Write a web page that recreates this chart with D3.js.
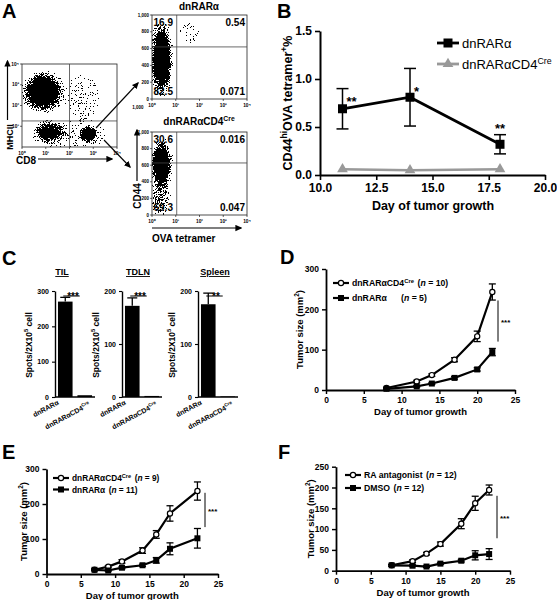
<!DOCTYPE html>
<html><head><meta charset="utf-8">
<script src="https://cdn.jsdelivr.net/npm/d3@7"></script>
<style>body{margin:0;background:#fff}svg{display:block}text{font-family:"Liberation Sans",Arial,sans-serif}</style>
</head><body><svg id="c" width="557" height="600"></svg>
<script>
// ---------------- DATA ----------------
// Panel A (flow cytometry): cluster summaries (x in log10 decades, y in log10 decades or linear units)
const aMainClusters = [
  {x: 0.9, y: 2.65, rx: 0.95, ry: 1.05, d: 1.0},
  {x: 1.15, y: 0.7, rx: 0.75, ry: 0.6, d: 0.7},
  {x: 2.8, y: 0.62, rx: 0.42, ry: 0.45, d: 1.0},
  {x: 2.55, y: 2.3, rx: 0.8, ry: 1.3, d: 0.12},
  {x: 2.0, y: 0.55, rx: 1.7, ry: 0.7, d: 0.15}
];
const aTopClusters = [
  {x: 0.4, y: 480, rx: 0.5, ry: 470, d: 1.0},
  {x: 1.6, y: 770, rx: 0.45, ry: 140, d: 0.1}
];
const aBotClusters = [
  {x: 0.4, y: 610, rx: 0.5, ry: 330, d: 0.9},
  {x: 0.35, y: 220, rx: 0.45, ry: 260, d: 0.35}
];
const aTopQuads = ["16.9", "0.54", "82.5", "0.071"];
const aBotQuads = ["30.6", "0.016", "69.3", "0.047"];
const flowLogTicks = ["10⁰", "10¹", "10²", "10³", "10⁴"];
const flowLinTicks = [0, 200, 400, 600, 800, 1000];

// Panel B
const bDays = [11, 14, 18];
const bDnMean = [0.69, 0.81, 0.32];
const bDnErr = [0.21, 0.30, 0.10];
const bCreMean = [0.06, 0.05, 0.06];
const bStars = ["**", "*", "**"];
const bTicksX = [10, 12.5, 15, 17.5, 20];
const bTicksY = [0, 0.5, 1.0, 1.5];

// Panel C
const cGroups = ["dnRARα", "dnRARαCD4Cre"];
const cTissues = ["TIL", "TDLN", "Spleen"];
const cMax = [300, 200, 200];
const cTicks = [[0, 100, 200, 300], [0, 100, 200], [0, 100, 200]];
const cMeans = [[270, 5], [172, 2], [175, 1]];
const cErr = [12, 15, 21];
const cStars = ["***", "***", "**"];

// Panel D
const dDays = [8, 12, 14, 17, 20, 22];
const dCre = [5, 21, 37, 75, 133, 243];
const dCreErr = [1, 3, 3, 5, 13, 20];
const dDn = [3, 9, 16, 30, 51, 94];
const dDnErr = [1, 2, 2, 3, 4, 9];

// Panel E
const eDays = [7, 9, 11, 14, 16, 18, 22];
const eCre = [12, 21, 36, 67, 113, 173, 237];
const eCreErr = [2, 3, 5, 8, 11, 22, 26];
const eDn = [12, 10, 18, 25, 39, 72, 102];
const eDnErr = [2, 2, 3, 3, 8, 17, 28];

// Panel F
const fDays = [8, 11, 13, 15, 18, 20, 22];
const fRA = [13, 23, 41, 64, 113, 162, 194];
const fRAErr = [2, 3, 3, 5, 12, 17, 12];
const fDMSO = [13, 12, 10, 17, 24, 37, 40];
const fDMSOErr = [2, 2, 2, 2, 3, 11, 13];

const growthXTicks = [0, 5, 10, 15, 20, 25];

// ---------------- HELPERS ----------------
const svg = d3.select("#c");
svg.append("rect").attr("width", 557).attr("height", 600).attr("fill", "#fff");
const defs = svg.append("defs");
defs.append("marker").attr("id", "ah").attr("viewBox", "0 0 10 10").attr("refX", 8).attr("refY", 5)
  .attr("markerWidth", 7).attr("markerHeight", 7).attr("markerUnits", "userSpaceOnUse").attr("orient", "auto")
  .append("path").attr("d", "M0,0.5L10,5L0,9.5z").attr("fill", "#000");
const rg = defs.append("radialGradient").attr("id", "rg");
rg.append("stop").attr("offset", 0).attr("stop-color", "#000").attr("stop-opacity", 1);
rg.append("stop").attr("offset", 0.5).attr("stop-color", "#000").attr("stop-opacity", 0.8);
rg.append("stop").attr("offset", 0.8).attr("stop-color", "#000").attr("stop-opacity", 0.3);
rg.append("stop").attr("offset", 1).attr("stop-color", "#000").attr("stop-opacity", 0);
const flt = defs.append("filter").attr("id", "grain").attr("filterUnits", "userSpaceOnUse")
  .attr("color-interpolation-filters", "sRGB")
  .attr("x", 0).attr("y", 0).attr("width", 557).attr("height", 600);
flt.append("feTurbulence").attr("type", "fractalNoise").attr("baseFrequency", 1.4).attr("numOctaves", 1).attr("seed", 7).attr("result", "noise");
flt.append("feComponentTransfer").attr("in", "noise").attr("result", "n2")
  .append("feFuncA").attr("type", "linear").attr("slope", 2.6).attr("intercept", -0.8);
flt.append("feComposite").attr("in", "SourceGraphic").attr("in2", "n2").attr("operator", "arithmetic")
  .attr("k1", 0).attr("k2", 8).attr("k3", -5).attr("k4", 0.45).attr("result", "cmp");
flt.append("feColorMatrix").attr("in", "cmp").attr("type", "matrix").attr("result", "blk")
  .attr("values", "0 0 0 0 0  0 0 0 0 0  0 0 0 0 0  0 0 0 1 0");
flt.append("feComponentTransfer").attr("in", "blk")
  .append("feFuncA").attr("type", "discrete").attr("tableValues", "0 1");

function rich(sel, parts, fs) {
  let cur = 0;
  parts.forEach(([s, t]) => {
    const ts = sel.append("tspan").text(s);
    const target = t === "s" ? -fs * 0.42 : 0;
    if (target !== cur) ts.attr("dy", target - cur);
    cur = target;
    if (t === "s") ts.attr("font-size", fs * 0.68);
    if (t === "i") ts.attr("font-style", "italic");
  });
  return sel;
}
function txt(g, x, y, s, fs, opts = {}) {
  const t = g.append("text").attr("x", x).attr("y", y).attr("font-size", fs)
    .attr("font-weight", opts.w || "bold").attr("text-anchor", opts.a || "start").attr("fill", opts.fill || "#000");
  if (opts.rot) t.attr("transform", `rotate(${opts.rot},${x},${y})`);
  if (Array.isArray(s)) rich(t, s, fs); else t.text(s);
  return t;
}
function styleAxis(a, fs, sw) {
  a.attr("font-family", null).attr("font-size", null);
  a.select(".domain").attr("stroke-width", sw).attr("stroke", "#000");
  a.selectAll(".tick line").attr("stroke-width", sw * 0.8).attr("stroke", "#000");
  a.selectAll(".tick text").attr("font-size", fs).attr("font-weight", "bold").attr("fill", "#000");
}

// ---------------- PANEL LETTERS ----------------
const letters = svg.append("g");
txt(letters, 2, 18, "A", 20);
txt(letters, 277, 18, "B", 20);
txt(letters, 2, 265, "C", 20);
txt(letters, 280, 264, "D", 20);
txt(letters, 2, 459, "E", 20);
txt(letters, 278, 459, "F", 20);

// ---------------- PANEL A ----------------
let clipN = 0;
function flowPlot(cfg) {
  const g = svg.append("g");
  const xs = d3.scaleLog().domain([1, 1e4]).range([cfg.x0, cfg.x1]);
  const ys = cfg.yLog ? d3.scaleLog().domain([1, 1e4]).range([cfg.y1, cfg.y0])
                      : d3.scaleLinear().domain([0, 1000]).range([cfg.y1, cfg.y0]);
  const pxDec = (cfg.x1 - cfg.x0) / 4;
  const pyUnit = cfg.yLog ? (cfg.y1 - cfg.y0) / 4 : (cfg.y1 - cfg.y0) / 1000;
  const id = "clip" + (clipN++);
  defs.append("clipPath").attr("id", id).append("rect")
    .attr("x", cfg.x0).attr("y", cfg.y0).attr("width", cfg.x1 - cfg.x0).attr("height", cfg.y1 - cfg.y0);
  const cg = g.append("g").attr("clip-path", `url(#${id})`).append("g").attr("filter", "url(#grain)");
  cg.selectAll("ellipse").data(cfg.clusters).join("ellipse")
    .attr("cx", c => xs(Math.pow(10, c.x)))
    .attr("cy", c => cfg.yLog ? ys(Math.pow(10, c.y)) : ys(c.y))
    .attr("rx", c => c.rx * pxDec).attr("ry", c => c.ry * pyUnit)
    .attr("fill", "url(#rg)").attr("fill-opacity", c => c.d);
  g.append("rect").attr("x", cfg.x0).attr("y", cfg.y0).attr("width", cfg.x1 - cfg.x0).attr("height", cfg.y1 - cfg.y0)
    .attr("fill", "none").attr("stroke", "#222").attr("stroke-width", 0.8);
  const gx = xs(cfg.gateX), gy = ys(cfg.gateY);
  g.append("line").attr("x1", gx).attr("x2", gx).attr("y1", cfg.y0).attr("y2", cfg.y1).attr("stroke", "#444").attr("stroke-width", 0.8);
  g.append("line").attr("x1", cfg.x0).attr("x2", cfg.x1).attr("y1", gy).attr("y2", gy).attr("stroke", "#444").attr("stroke-width", 0.8);
  flowLogTicks.forEach((t, i) => {
    const x = xs(Math.pow(10, i));
    g.append("line").attr("x1", x).attr("x2", x).attr("y1", cfg.y1).attr("y2", cfg.y1 + 2).attr("stroke", "#000").attr("stroke-width", 0.6);
    txt(g, x, cfg.y1 + 7.5, t, 4.8, {a: "middle"});
  });
  if (cfg.yLog) {
    flowLogTicks.forEach((t, i) => {
      if (i === 0) return;
      const y = ys(Math.pow(10, i));
      g.append("line").attr("x1", cfg.x0 - 2).attr("x2", cfg.x0).attr("y1", y).attr("y2", y).attr("stroke", "#000").attr("stroke-width", 0.6);
      txt(g, cfg.x0 - 3, y + 1.6, t, 4.8, {a: "end"});
    });
  } else {
    flowLinTicks.forEach(v => {
      const y = ys(v);
      g.append("line").attr("x1", cfg.x0 - 2).attr("x2", cfg.x0).attr("y1", y).attr("y2", y).attr("stroke", "#000").attr("stroke-width", 0.6);
      txt(g, cfg.x0 - 3, y + 1.6, d3.format(",")(v), 4.5, {a: "end"});
    });
  }
  if (cfg.quads) {
    const [tl, tr, bl, br] = cfg.quads;
    txt(g, cfg.x0 + 1.5, cfg.y0 + 10.5, tl, 10);
    txt(g, cfg.x1 - 2, cfg.y0 + 10.5, tr, 10, {a: "end"});
    txt(g, cfg.x0 + 1.5, cfg.y1 - 4.5, bl, 10);
    txt(g, cfg.x1 - 2, cfg.y1 - 4.5, br, 10, {a: "end"});
  }
  return g;
}
flowPlot({x0: 22, x1: 117, y0: 64, y1: 147, yLog: true, clusters: aMainClusters, gateX: 100, gateY: 18});
flowPlot({x0: 152, x1: 247, y0: 15, y1: 99, yLog: false, clusters: aTopClusters, gateX: 11, gateY: 620, quads: aTopQuads});
flowPlot({x0: 152, x1: 247, y0: 132, y1: 215, yLog: false, clusters: aBotClusters, gateX: 11, gateY: 627, quads: aBotQuads});
const aLab = svg.append("g");
txt(aLab, 138, 109, "1,000", 4.5, {a: "middle"});
txt(aLab, 199, 10, "dnRARα", 10, {a: "middle"});
txt(aLab, 199, 125, [["dnRARαCD4", ""], ["Cre", "s"]], 10, {a: "middle"});
function arrow(g, x1, y1, x2, y2, w) {
  g.append("line").attr("x1", x1).attr("y1", y1).attr("x2", x2).attr("y2", y2)
    .attr("stroke", "#000").attr("stroke-width", w).attr("marker-end", "url(#ah)");
}
arrow(aLab, 7.5, 120, 7.5, 61, 1.2);
txt(aLab, 13, 137, "MHCII", 9, {a: "middle", rot: -90});
txt(aLab, 16, 163.5, "CD8", 10);
arrow(aLab, 38, 159, 112, 159, 1.2);
arrow(aLab, 96, 128, 138, 83, 1.1);
arrow(aLab, 104, 140, 130, 167, 1.1);
arrow(aLab, 137, 181, 137, 130, 1.2);
txt(aLab, 141, 196, "CD44", 10, {a: "middle", rot: -90});
arrow(aLab, 152, 228, 241, 228, 1.2);
txt(aLab, 152, 242, "OVA tetramer", 10);

// ---------------- PANEL B ----------------
(function () {
  const g = svg.append("g");
  const x = d3.scaleLinear().domain([10, 20]).range([320, 545]);
  const y = d3.scaleLinear().domain([0, 1.5]).range([175, 31]);
  const ax = g.append("g").attr("transform", "translate(0,175)")
    .call(d3.axisBottom(x).tickValues(bTicksX).tickFormat(d3.format(".1f")).tickSize(5).tickSizeOuter(0));
  styleAxis(ax, 12, 2);
  const ay = g.append("g").attr("transform", "translate(320,0)")
    .call(d3.axisLeft(y).tickValues(bTicksY).tickFormat(d3.format(".1f")).tickSize(5).tickSizeOuter(0));
  styleAxis(ay, 12, 2);
  g.append("path").datum(bDays.map((d, i) => [x(d), y(bCreMean[i])]))
    .attr("d", d3.line()).attr("fill", "none").attr("stroke", "#999").attr("stroke-width", 2.5);
  g.selectAll(".tri").data(bDays).join("path")
    .attr("d", d3.symbol(d3.symbolTriangle, 50)).attr("fill", "#999")
    .attr("transform", (d, i) => `translate(${x(d)},${y(bCreMean[i])})`);
  bDays.forEach((d, i) => {
    const cx = x(d), t = y(bDnMean[i] + bDnErr[i]), b = y(bDnMean[i] - bDnErr[i]);
    g.append("line").attr("x1", cx).attr("x2", cx).attr("y1", t).attr("y2", b).attr("stroke", "#000").attr("stroke-width", 1.5);
    [t, b].forEach(yy => g.append("line").attr("x1", cx - 6).attr("x2", cx + 6).attr("y1", yy).attr("y2", yy).attr("stroke", "#000").attr("stroke-width", 1.5));
  });
  g.append("path").datum(bDays.map((d, i) => [x(d), y(bDnMean[i])]))
    .attr("d", d3.line()).attr("fill", "none").attr("stroke", "#000").attr("stroke-width", 2.8);
  g.selectAll(".sq").data(bDays).join("rect")
    .attr("x", (d) => x(d) - 4.5).attr("y", (d, i) => y(bDnMean[i]) - 4.5).attr("width", 9).attr("height", 9).attr("fill", "#000");
  txt(g, x(bDays[0]) + 4, y(bDnMean[0]) - 3, bStars[0], 13);
  txt(g, x(bDays[1]) + 4, y(bDnMean[1]) - 1, bStars[1], 13);
  txt(g, x(bDays[2]), y(bDnMean[2] + bDnErr[2]) - 2, bStars[2], 13, {a: "middle"});
  g.append("line").attr("x1", 437).attr("x2", 459).attr("y1", 43).attr("y2", 43).attr("stroke", "#000").attr("stroke-width", 2.8);
  g.append("rect").attr("x", 443.5).attr("y", 38.5).attr("width", 9).attr("height", 9).attr("fill", "#000");
  txt(g, 462, 48, "dnRARα", 13, {w: "normal"});
  g.append("line").attr("x1", 437).attr("x2", 459).attr("y1", 64).attr("y2", 64).attr("stroke", "#999").attr("stroke-width", 2.8);
  g.append("path").attr("d", d3.symbol(d3.symbolTriangle, 50)).attr("fill", "#999").attr("transform", "translate(448,64)");
  txt(g, 462, 69, [["dnRARαCD4", ""], ["Cre", "s"]], 13, {w: "normal"});
  txt(g, 292, 103, [["CD44", ""], ["hi", "s"], ["OVA tetramer", ""], ["+", "s"], ["%", ""]], 12.5, {a: "middle", rot: -90});
  txt(g, 433, 210, "Day of tumor growth", 12.5, {a: "middle"});
})();

// ---------------- PANEL C ----------------
const cLayout = [{ax: 55, lab: 32, tx: 62}, {ax: 122, lab: 99, tx: 138}, {ax: 198, lab: 175, tx: 215}];
cTissues.forEach((tis, k) => {
  const g = svg.append("g");
  const L = cLayout[k];
  const y = d3.scaleLinear().domain([0, cMax[k]]).range([397, 291]);
  const x = d3.scaleBand().domain(cGroups).range([L.ax + 2, L.ax + 38]).paddingInner(0.25).paddingOuter(0.05);
  const ay = g.append("g").attr("transform", `translate(${L.ax},0)`)
    .call(d3.axisLeft(y).tickValues(cTicks[k]).tickSize(3).tickSizeOuter(0));
  styleAxis(ay, 7, 1.4);
  g.append("line").attr("x1", L.ax).attr("x2", L.ax + 40).attr("y1", 397).attr("y2", 397).attr("stroke", "#000").attr("stroke-width", 1.4);
  g.selectAll(".bar").data(cGroups).join("rect")
    .attr("x", d => x(d)).attr("width", x.bandwidth())
    .attr("y", (d, i) => y(cMeans[k][i])).attr("height", (d, i) => 397 - y(cMeans[k][i])).attr("fill", "#000");
  const bc = x(cGroups[0]) + x.bandwidth() / 2;
  const et = y(cMeans[k][0] + cErr[k]);
  g.append("line").attr("x1", bc).attr("x2", bc).attr("y1", et).attr("y2", y(cMeans[k][0])).attr("stroke", "#000").attr("stroke-width", 1.3);
  g.append("line").attr("x1", bc - 5).attr("x2", bc + 5).attr("y1", et).attr("y2", et).attr("stroke", "#000").attr("stroke-width", 1.3);
  const bc2 = x(cGroups[1]) + x.bandwidth() / 2;
  g.append("line").attr("x1", bc - 2).attr("x2", bc2 - 5).attr("y1", 296).attr("y2", 296).attr("stroke", "#000").attr("stroke-width", 1);
  txt(g, (bc + bc2) / 2 - 2, 300, cStars[k], 10, {a: "middle"});
  txt(g, L.tx, 275, tis, 9, {a: "middle"}).attr("text-decoration", "underline");
  txt(g, L.lab, 345, [["Spots/2X10", ""], ["5", "s"], [" cell", ""]], 8.5, {a: "middle", rot: -90});
  txt(g, bc - 6, 404, cGroups[0], 7, {a: "end", rot: -28});
  txt(g, bc2 + 6, 406, [["dnRARαCD4", ""], ["Cre", "s"]], 7, {a: "end", rot: -28});
});

// ---------------- GROWTH CURVES (D, E, F) ----------------
function drawMarker(g, m, cx, cy) {
  if (m === "circle") g.append("circle").attr("cx", cx).attr("cy", cy).attr("r", 2.6).attr("fill", "#fff").attr("stroke", "#000").attr("stroke-width", 1.2);
  else g.append("rect").attr("x", cx - 3).attr("y", cy - 3).attr("width", 6).attr("height", 6).attr("fill", "#000");
}
function growth(cfg) {
  const g = svg.append("g");
  const x = d3.scaleLinear().domain([0, 25]).range([cfg.xl, cfg.xr]);
  const y = d3.scaleLinear().domain([0, cfg.ymax]).range([cfg.yb, cfg.yt]);
  const ax = g.append("g").attr("transform", `translate(0,${cfg.yb})`)
    .call(d3.axisBottom(x).tickValues(growthXTicks).tickSize(4).tickSizeOuter(0));
  styleAxis(ax, 8.5, 1.8);
  const ay = g.append("g").attr("transform", `translate(${cfg.xl},0)`)
    .call(d3.axisLeft(y).tickValues(cfg.yticks).tickSize(4).tickSizeOuter(0));
  styleAxis(ay, 8.5, 1.8);
  cfg.series.forEach(s => {
    s.days.forEach((d, i) => {
      const cx = x(d), t = y(s.mean[i] + s.err[i]), b = y(Math.max(0, s.mean[i] - s.err[i]));
      g.append("line").attr("x1", cx).attr("x2", cx).attr("y1", t).attr("y2", b).attr("stroke", "#000").attr("stroke-width", 1.3);
      [t, b].forEach(yy => g.append("line").attr("x1", cx - 3.5).attr("x2", cx + 3.5).attr("y1", yy).attr("y2", yy).attr("stroke", "#000").attr("stroke-width", 1.3));
    });
    g.append("path").datum(s.days.map((d, i) => [x(d), y(s.mean[i])]))
      .attr("d", d3.line()).attr("fill", "none").attr("stroke", "#000").attr("stroke-width", 2.2);
  });
  cfg.series.forEach(s => s.days.forEach((d, i) => drawMarker(g, s.marker, x(d), y(s.mean[i]))));
  cfg.legend.forEach((L, i) => {
    const ly = cfg.legY + i * cfg.legDy;
    g.append("line").attr("x1", cfg.legX).attr("x2", cfg.legX + 16).attr("y1", ly).attr("y2", ly).attr("stroke", "#000").attr("stroke-width", 2.2);
    drawMarker(g, cfg.series[i].marker, cfg.legX + 8, ly);
    const t = txt(g, cfg.legX + 19, ly + 3.2, L.label, cfg.legFs);
    const end = cfg.legX + 19 + t.node().getComputedTextLength();
    const nx = Math.max(L.nx || 0, end + 3.5);
    txt(g, nx, ly + 3.2, [["(", ""], ["n", "i"], [" = " + L.n + ")", ""]], cfg.legFs);
  });
  g.append("line").attr("x1", cfg.sigX).attr("x2", cfg.sigX).attr("y1", y(cfg.sig[1])).attr("y2", y(cfg.sig[0])).attr("stroke", "#000").attr("stroke-width", 1);
  txt(g, cfg.sigX + 3, (y(cfg.sig[0]) + y(cfg.sig[1])) / 2 + 4, "***", 8);
  txt(g, (cfg.xl + cfg.xr) / 2, cfg.yb + 25, "Day of tumor growth", 9.5, {a: "middle"});
  txt(g, cfg.ytx, (cfg.yb + cfg.yt) / 2, [["Tumor size (mm", ""], ["2", "s"], [")", ""]], 9.5, {a: "middle", rot: -90});
}

growth({
  xl: 326, xr: 515, yb: 390, yt: 269, ymax: 300, yticks: [0, 100, 200, 300], ytx: 303,
  series: [{days: dDays, mean: dCre, err: dCreErr, marker: "circle"}, {days: dDays, mean: dDn, err: dDnErr, marker: "square"}],
  legX: 333, legY: 283, legDy: 15, legFs: 8.7,
  legend: [{label: [["dnRARαCD4", ""], ["Cre", "s"]], n: "10", nx: 415}, {label: "dnRARα", n: "5", nx: 401}],
  sigX: 498, sig: [120, 222]
});
growth({
  xl: 46.5, xr: 218, yb: 574, yt: 469, ymax: 300, yticks: [0, 100, 200, 300], ytx: 27,
  series: [{days: eDays, mean: eCre, err: eCreErr, marker: "circle"}, {days: eDays, mean: eDn, err: eDnErr, marker: "square"}],
  legX: 53, legY: 478, legDy: 11.5, legFs: 8.3,
  legend: [{label: [["dnRARαCD4", ""], ["Cre", "s"]], n: "9", nx: 0}, {label: "dnRARα", n: "11", nx: 0}],
  sigX: 205, sig: [134, 232]
});
growth({
  xl: 336, xr: 510, yb: 570.7, yt: 466.7, ymax: 250, yticks: [0, 50, 100, 150, 200, 250], ytx: 314,
  series: [{days: fDays, mean: fRA, err: fRAErr, marker: "circle"}, {days: fDays, mean: fDMSO, err: fDMSOErr, marker: "square"}],
  legX: 345, legY: 475, legDy: 13, legFs: 8.7,
  legend: [{label: "RA antagonist", n: "12", nx: 0}, {label: "DMSO", n: "12", nx: 0}],
  sigX: 497, sig: [78, 180]
});
</script></body></html>
